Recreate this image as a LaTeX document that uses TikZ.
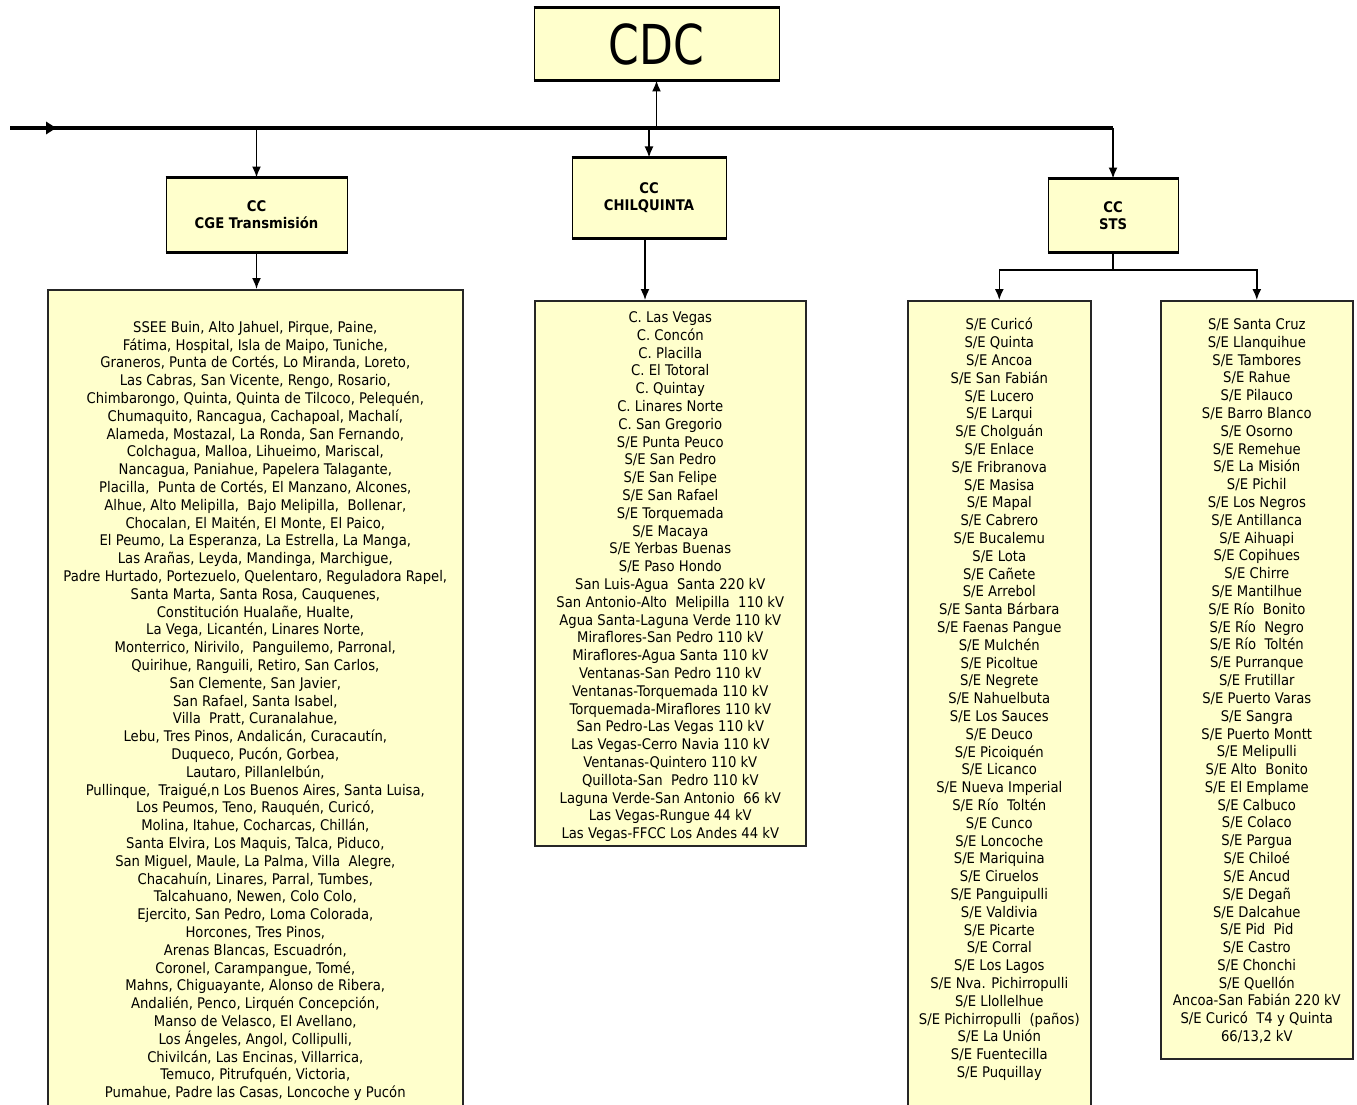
\documentclass[tikz,border=0pt]{standalone}
\usepackage{fontspec}
\setmainfont[FakeStretch=0.9]{DejaVu Sans}
\newfontfamily\cdcfont[FakeStretch=0.8]{DejaVu Sans}
\usetikzlibrary{arrows.meta,positioning}

\definecolor{boxfill}{HTML}{FFFFCC}

\tikzset{
  ccbox/.style={draw=black, line width=1pt, fill=boxfill, align=center, inner sep=0pt,
    font=\bfseries\fontsize{14.67}{17}\selectfont},
  ccedge/.style={line width=2.6pt},
  listbox/.style={draw=black!85, line width=1.6pt, fill=boxfill, inner sep=0pt, anchor=north west},
  listtext/.style={anchor=north, align=center, inner sep=0pt,
    font=\fontsize{14.67}{17.8}\selectfont},
  bus/.style={line width=4pt},
  link/.style={-{Latex[length=11pt,width=9pt]}, line width=1.6pt},
}

\begin{document}
\begin{tikzpicture}[x=1pt,y=-1pt]
\useasboundingbox (0,0) rectangle (1357,1105);
\clip (0,0) rectangle (1357,1105);

% top level
\node[ccbox, minimum width=245, minimum height=72, font=\cdcfont\fontsize{55}{60}\selectfont] (cdc) at (656.5,44) {CDC};

% control centres
\node[ccbox, minimum width=181, minimum height=74] (cge) at (256.5,215) {CC\\[0pt]\raisebox{0pt}{CGE Transmisión}};
\node[ccbox, minimum width=154, minimum height=80] (chil) at (649,198) {CC\\CHILQUINTA};
\node[ccbox, minimum width=130, minimum height=73] (sts) at (1113,215.5) {CC\\STS};

\foreach \b in {cdc,cge,chil,sts}
  \draw[ccedge] (\b.north west) -- (\b.north east) (\b.south west) -- (\b.south east);

% bus
\coordinate (busw) at (10,128);
\coordinate (bustip) at (58,128);
\coordinate (buse) at (1113,128);
\draw[bus] (busw) -- (buse);
\draw[bus, -{Latex[length=12pt,width=14pt]}] (busw) -- (bustip);

% list boxes
\node[listbox, minimum width=415, minimum height=830] (cgelist) at (47,289) {};
\node[listbox, minimum width=271, minimum height=545] (chillist) at (534,300) {};
\node[listbox, minimum width=183, minimum height=820] (stsalist) at (907,300) {};
\node[listbox, minimum width=192, minimum height=758] (stsblist) at (1160,300) {};

% CGE Transmision
\node[listtext, below=32pt of cgelist.north] (cgetext) {%
SSEE Buin, Alto Jahuel, Pirque, Paine,\\
Fátima, Hospital, Isla de Maipo, Tuniche,\\
Graneros, Punta de Cortés, Lo Miranda, Loreto,\\
Las Cabras, San Vicente, Rengo, Rosario,\\
Chimbarongo, Quinta, Quinta de Tilcoco, Pelequén,\\
Chumaquito, Rancagua, Cachapoal, Machalí,\\
Alameda, Mostazal, La Ronda, San Fernando,\\
Colchagua, Malloa, Lihueimo, Mariscal,\\
Nancagua, Paniahue, Papelera Talagante,\\
Placilla, \ Punta de Cortés, El Manzano, Alcones,\\
Alhue, Alto Melipilla, \ Bajo Melipilla, \ Bollenar,\\
Chocalan, El Maitén, El Monte, El Paico,\\
El Peumo, La Esperanza, La Estrella, La Manga,\\
Las Arañas, Leyda, Mandinga, Marchigue,\\
Padre Hurtado, Portezuelo, Quelentaro, Reguladora Rapel,\\
Santa Marta, Santa Rosa, Cauquenes,\\
Constitución Hualañe, Hualte,\\
La Vega, Licantén, Linares Norte,\\
Monterrico, Nirivilo, \ Panguilemo, Parronal,\\
Quirihue, Ranguili, Retiro, San Carlos,\\
San Clemente, San Javier,\\
San Rafael, Santa Isabel,\\
Villa \ Pratt, Curanalahue,\\
Lebu, Tres Pinos, Andalicán, Curacautín,\\
Duqueco, Pucón, Gorbea,\\
Lautaro, Pillanlelbún,\\
Pullinque, \ Traigué,n Los Buenos Aires, Santa Luisa,\\
Los Peumos, Teno, Rauquén, Curicó,\\
Molina, Itahue, Cocharcas, Chillán,\\
Santa Elvira, Los Maquis, Talca, Piduco,\\
San Miguel, Maule, La Palma, Villa \ Alegre,\\
Chacahuín, Linares, Parral, Tumbes,\\
Talcahuano, Newen, Colo Colo,\\
Ejercito, San Pedro, Loma Colorada,\\
Horcones, Tres Pinos,\\
Arenas Blancas, Escuadrón,\\
Coronel, Carampangue, Tomé,\\
Mahns, Chiguayante, Alonso de Ribera,\\
Andalién, Penco, Lirquén Concepción,\\
Manso de Velasco, El Avellano,\\
Los Ángeles, Angol, Collipulli,\\
Chivilcán, Las Encinas, Villarrica,\\
Temuco, Pitrufquén, Victoria,\\
Pumahue, Padre las Casas, Loncoche y Pucón};

% Chilquinta
\node[listtext, below=11.5pt of chillist.north] (chiltext) {%
C. Las Vegas\\
C. Concón\\
C. Placilla\\
C. El Totoral\\
C. Quintay\\
C. Linares Norte\\
C. San Gregorio\\
S/E Punta Peuco\\
S/E San Pedro\\
S/E San Felipe\\
S/E San Rafael\\
S/E Torquemada\\
S/E Macaya\\
S/E Yerbas Buenas\\
S/E Paso Hondo\\
San Luis-Agua \ Santa 220 kV\\
San Antonio-Alto \ Melipilla \ 110 kV\\
Agua Santa-Laguna Verde 110 kV\\
Miraflores-San Pedro 110 kV\\
Miraflores-Agua Santa 110 kV\\
Ventanas-San Pedro 110 kV\\
Ventanas-Torquemada 110 kV\\
Torquemada-Miraflores 110 kV\\
San Pedro-Las Vegas 110 kV\\
Las Vegas-Cerro Navia 110 kV\\
Ventanas-Quintero 110 kV\\
Quillota-San \ Pedro 110 kV\\
Laguna Verde-San Antonio \ 66 kV\\
Las Vegas-Rungue 44 kV\\
Las Vegas-FFCC Los Andes 44 kV};

% STS, first column
\node[listtext, below=18pt of stsalist.north] (stsatext) {%
S/E Curicó\\
S/E Quinta\\
S/E Ancoa\\
S/E San Fabián\\
S/E Lucero\\
S/E Larqui\\
S/E Cholguán\\
S/E Enlace\\
S/E Fribranova\\
S/E Masisa\\
S/E Mapal\\
S/E Cabrero\\
S/E Bucalemu\\
S/E Lota\\
S/E Cañete\\
S/E Arrebol\\
S/E Santa Bárbara\\
S/E Faenas Pangue\\
S/E Mulchén\\
S/E Picoltue\\
S/E Negrete\\
S/E Nahuelbuta\\
S/E Los Sauces\\
S/E Deuco\\
S/E Picoiquén\\
S/E Licanco\\
S/E Nueva Imperial\\
S/E Río \ Toltén\\
S/E Cunco\\
S/E Loncoche\\
S/E Mariquina\\
S/E Ciruelos\\
S/E Panguipulli\\
S/E Valdivia\\
S/E Picarte\\
S/E Corral\\
S/E Los Lagos\\
S/E Nva. Pichirropulli\\
S/E Llollelhue\\
S/E Pichirropulli \ (paños)\\
S/E La Unión\\
S/E Fuentecilla\\
S/E Puquillay};

% STS, second column
\node[listtext, below=18.5pt of stsblist.north] (stsbtext) {%
S/E Santa Cruz\\
S/E Llanquihue\\
S/E Tambores\\
S/E Rahue\\
S/E Pilauco\\
S/E Barro Blanco\\
S/E Osorno\\
S/E Remehue\\
S/E La Misión\\
S/E Pichil\\
S/E Los Negros\\
S/E Antillanca\\
S/E Aihuapi\\
S/E Copihues\\
S/E Chirre\\
S/E Mantilhue\\
S/E Río \ Bonito\\
S/E Río \ Negro\\
S/E Río \ Toltén\\
S/E Purranque\\
S/E Frutillar\\
S/E Puerto Varas\\
S/E Sangra\\
S/E Puerto Montt\\
S/E Melipulli\\
S/E Alto \ Bonito\\
S/E El Emplame\\
S/E Calbuco\\
S/E Colaco\\
S/E Pargua\\
S/E Chiloé\\
S/E Ancud\\
S/E Degañ\\
S/E Dalcahue\\
S/E Pid \ Pid\\
S/E Castro\\
S/E Chonchi\\
S/E Quellón\\
Ancoa-San Fabián 220 kV\\
S/E Curicó \ T4 y Quinta\\
66/13,2 kV};

% Arrows
\draw[link] (cdc.south |- buse) -- (cdc.south);
\draw[link] (cge.north |- buse) -- (cge.north);
\draw[link] (chil.north |- buse) -- (chil.north);
\draw[link] (buse) -- (sts.north);
\draw[link] (cge.south) -- (cge.south |- cgelist.north);
\draw[link] ([xshift=-4pt]chil.south) -- ([xshift=-4pt]chil.south |- chillist.north);
\coordinate (stsfork) at (1113,270);
\draw[line width=1.6pt] (sts.south) -- (stsfork);
\draw[link] (stsfork) -| (stsalist.north);
\draw[link] (stsfork) -| (stsblist.north);
\end{tikzpicture}
\end{document}
